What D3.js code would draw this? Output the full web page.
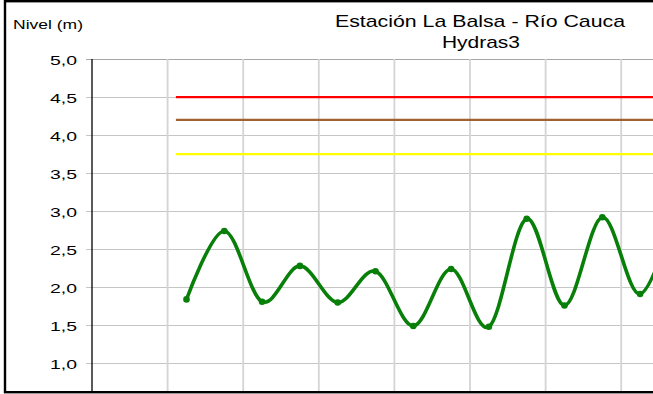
<!DOCTYPE html>
<html>
<head>
<meta charset="utf-8">
<script src="https://cdn.jsdelivr.net/npm/d3@7"></script>
<style>
  html, body { margin: 0; padding: 0; background: #fff; }
  svg { display: block; font-family: "Liberation Sans", Arial, sans-serif; }
</style>
</head>
<body>
<svg id="chart" width="653" height="394"></svg>
<script>
// Reading times, in days from the start of the axis (two readings per day)
const readingDay = [1.25, 1.75, 2.25, 2.75, 3.25, 3.75, 4.25, 4.75, 5.25, 5.75, 6.25, 6.75, 7.25, 7.75];
// Water level (m) at each reading
const nivel = [1.84, 2.74, 1.81, 2.28, 1.80, 2.21, 1.49, 2.24, 1.48, 2.90, 1.76, 2.92, 1.91, 3.08];

// Alert thresholds (m) and their span along the time axis
const thresholdNames = ["Roja", "Naranja", "Amarilla"];
const thresholdValues = [4.5, 4.2, 3.75];
const thresholdColors = ["#ff0000", "#9e6132", "#ffff00"];
const thresholdSpan = [1.11, 8];

const yTicks = [1.0, 1.5, 2.0, 2.5, 3.0, 3.5, 4.0, 4.5, 5.0];
const xGridDays = [1, 2, 3, 4, 5, 6, 7, 8];

const titleLines = ["Estación La Balsa - Río Cauca", "Hydras3"];
const yAxisTitle = "Nivel (m)";

const svg = d3.select("#chart");
const W = 653, H = 394;

const plot = { left: 92, top: 59, right: 696.8, bottom: 401.3 };

const x = d3.scaleLinear().domain([0, 8]).range([plot.left, plot.right]);
const y = d3.scaleLinear().domain([1, 5]).range([363.3, plot.top]);

const fmt = d3.formatLocale({ decimal: ",", thousands: ".", grouping: [3], currency: ["$", ""] }).format(".1f");

const clip = svg.append("defs").append("clipPath").attr("id", "frameClip")
  .append("rect").attr("x", 6).attr("y", 2).attr("width", W).attr("height", 389.5);

const g = svg.append("g").attr("clip-path", "url(#frameClip)");

// Horizontal grid lines with their small ticks left of the axis
g.append("g").selectAll("line").data(yTicks).join("line")
  .attr("x1", plot.left - 6).attr("x2", W)
  .attr("y1", d => Math.round(y(d)) + 0.5).attr("y2", d => Math.round(y(d)) + 0.5)
  .attr("stroke", d => d === 5 ? "#a6a6a6" : "#c6c6c6")
  .attr("stroke-width", 1.2);

// Vertical grid lines
g.append("g").selectAll("line").data(xGridDays).join("line")
  .attr("x1", d => x(d)).attr("x2", d => x(d))
  .attr("y1", plot.top).attr("y2", plot.bottom)
  .attr("stroke", "#d4d4d4")
  .attr("stroke-width", 1.8);

// Y axis line
g.append("line")
  .attr("x1", plot.left).attr("x2", plot.left)
  .attr("y1", plot.top).attr("y2", plot.bottom)
  .attr("stroke", "#000").attr("stroke-width", 1.3);

// Y tick labels
svg.append("g").selectAll("text").data(yTicks).join("text")
  .attr("x", 77).attr("y", d => y(d) + 5.5)
  .attr("text-anchor", "end")
  .attr("font-size", 13)
  .attr("textLength", 27).attr("lengthAdjust", "spacingAndGlyphs")
  .attr("fill", "#000")
  .text(d => fmt(d));

// Threshold lines
g.append("g").selectAll("line").data(thresholdValues).join("line")
  .attr("x1", x(thresholdSpan[0])).attr("x2", x(thresholdSpan[1]))
  .attr("y1", d => y(d)).attr("y2", d => y(d))
  .attr("stroke", (d, i) => thresholdColors[i])
  .attr("stroke-width", 2.2);

// Level series: smoothed line with point markers
const pts = readingDay.map((d, i) => [x(d), y(nivel[i])]);
g.append("path")
  .attr("d", d3.line().curve(d3.curveCardinal.tension(0))(pts))
  .attr("fill", "none")
  .attr("stroke", "#087f08")
  .attr("stroke-width", 3.6)
  .attr("stroke-linejoin", "round");
g.append("g").selectAll("circle").data(pts).join("circle")
  .attr("cx", d => d[0]).attr("cy", d => d[1]).attr("r", 3.3)
  .attr("fill", "#087f08");

// Titles
svg.append("text").attr("x", 13).attr("y", 29)
  .attr("font-size", 13.5)
  .attr("textLength", 70).attr("lengthAdjust", "spacingAndGlyphs")
  .text(yAxisTitle);

svg.append("text").attr("x", 480).attr("y", 26.5)
  .attr("text-anchor", "middle").attr("font-size", 17)
  .attr("textLength", 290).attr("lengthAdjust", "spacingAndGlyphs")
  .text(titleLines[0]);
svg.append("text").attr("x", 481).attr("y", 47.5)
  .attr("text-anchor", "middle").attr("font-size", 17)
  .attr("textLength", 78).attr("lengthAdjust", "spacingAndGlyphs")
  .text(titleLines[1]);

// Chart frame
svg.append("rect")
  .attr("x", 5).attr("y", 1.2).attr("width", W + 10).attr("height", 391)
  .attr("fill", "none").attr("stroke", "#000").attr("stroke-width", 2.4);
</script>
</body>
</html>
